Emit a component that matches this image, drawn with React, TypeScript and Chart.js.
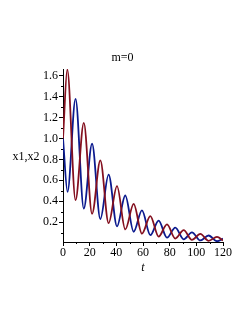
import React, { useEffect, useRef } from "react";
import { Chart, registerables } from "chart.js";

Chart.register(...registerables);

// Series x1 (red): times and values (extrema + ends)
const x1Times = [0, 3.2, 9.4, 15.6, 21.8, 28, 34.2, 40.5, 46.7, 53, 59.2, 65.5, 71.7, 78, 84.2, 90.5, 96.7, 103, 109.2, 115.5, 120];
const x1Values = [1.0, 1.66, 0.41, 1.15, 0.28, 0.79, 0.19, 0.545, 0.13, 0.375, 0.09, 0.258, 0.062, 0.178, 0.043, 0.123, 0.03, 0.087, 0.021, 0.059, 0.024];

// Series x2 (blue)
const x2Times = [0, 3.4, 9.4, 15.6, 21.8, 28, 34.2, 40.5, 46.7, 53, 59.2, 65.5, 71.7, 78, 84.2, 90.5, 96.7, 103, 109.2, 115.5, 120];
const x2Values = [1.0, 0.49, 1.38, 0.33, 0.95, 0.23, 0.655, 0.16, 0.455, 0.108, 0.312, 0.075, 0.215, 0.051, 0.148, 0.036, 0.102, 0.025, 0.072, 0.017, 0.042];

// Tick values
const yMajorTicks = [0.2, 0.4, 0.6, 0.8, 1.0, 1.2, 1.4, 1.6];
const yMinorTicks = [0.1, 0.3, 0.5, 0.7, 0.9, 1.1, 1.3, 1.5];
const xMinorTicks = [10, 30, 50, 70, 90, 110];

const titleText = "m=0";
const yLabelText = "x1,x2";
const xLabelText = "t";

const RED = "#84101f";
const BLUE = "#0b1a8e";
const FONT = '"Liberation Serif", "DejaVu Serif", serif';

const maplePlugin = {
  id: "maplePlugin",
  afterDraw(chart: any) {
    const { ctx, chartArea, scales } = chart;
    ctx.save();
    ctx.strokeStyle = "#000";
    ctx.lineWidth = 1;
    yMinorTicks.forEach((v) => {
      const y = Math.round(scales.y.getPixelForValue(v)) + 0.5;
      ctx.beginPath();
      ctx.moveTo(chartArea.left - 2, y);
      ctx.lineTo(chartArea.left, y);
      ctx.stroke();
    });
    xMinorTicks.forEach((v) => {
      const x = Math.round(scales.x.getPixelForValue(v)) + 0.5;
      ctx.beginPath();
      ctx.moveTo(x, chartArea.bottom);
      ctx.lineTo(x, chartArea.bottom + 2);
      ctx.stroke();
    });
    ctx.fillStyle = "#000";
    ctx.textAlign = "center";
    ctx.textBaseline = "middle";
    ctx.font = `12px ${FONT}`;
    ctx.fillText(titleText, chart.width / 2 - 2, chartArea.top - 11);
    ctx.fillText(yLabelText, chartArea.left - 37, (chartArea.top + chartArea.bottom) / 2 + 1);
    ctx.font = `italic 12px ${FONT}`;
    ctx.fillText(xLabelText, (chartArea.left + chartArea.right) / 2, chartArea.bottom + 26);
    ctx.restore();
  },
};

export default function App() {
  const ref = useRef<HTMLCanvasElement | null>(null);

  useEffect(() => {
    if (!ref.current) return;
    const chart = new Chart(ref.current, {
      type: "line",
      data: {
        datasets: [
          {
            label: "x1",
            data: x1Times.map((t, i) => ({ x: t, y: x1Values[i] })),
            borderColor: RED,
            borderWidth: 1.8,
            pointRadius: 0,
            cubicInterpolationMode: "monotone",
            fill: false,
          },
          {
            label: "x2",
            data: x2Times.map((t, i) => ({ x: t, y: x2Values[i] })),
            borderColor: BLUE,
            borderWidth: 1.8,
            pointRadius: 0,
            cubicInterpolationMode: "monotone",
            fill: false,
          },
        ],
      },
      options: {
        animation: false,
        responsive: false,
        layout: { padding: { top: 69, left: 0, right: 26, bottom: 51 } },
        plugins: {
          legend: { display: false },
          tooltip: { enabled: false },
          title: { display: false },
        },
        scales: {
          x: {
            type: "linear",
            min: 0,
            max: 120,
            ticks: {
              stepSize: 20,
              color: "#000",
              font: { family: FONT, size: 12 },
              padding: 0,
              maxRotation: 0,
            },
            grid: { drawOnChartArea: false, drawTicks: true, tickLength: 4, color: "#000" },
            border: { display: true, color: "#000", width: 1 },
            afterFit: (scale: any) => {
              scale.height = 30;
            },
          },
          y: {
            type: "linear",
            min: 0.01,
            max: 1.665,
            afterBuildTicks: (scale: any) => {
              scale.ticks = yMajorTicks.map((v) => ({ value: v }));
            },
            ticks: {
              color: "#000",
              font: { family: FONT, size: 12 },
              padding: 1,
              callback: (v: any) => Number(v).toFixed(1),
            },
            grid: { drawOnChartArea: false, drawTicks: true, tickLength: 4, color: "#000" },
            border: { display: true, color: "#000", width: 1 },
            afterFit: (scale: any) => {
              scale.width = 63;
            },
          },
        },
      },
      plugins: [maplePlugin],
    });
    return () => chart.destroy();
  }, []);

  return (
    <div style={{ position: "absolute", left: 0, top: 0, width: 249, height: 323, background: "#fff" }}>
      <canvas ref={ref} width={249} height={323} />
    </div>
  );
}
